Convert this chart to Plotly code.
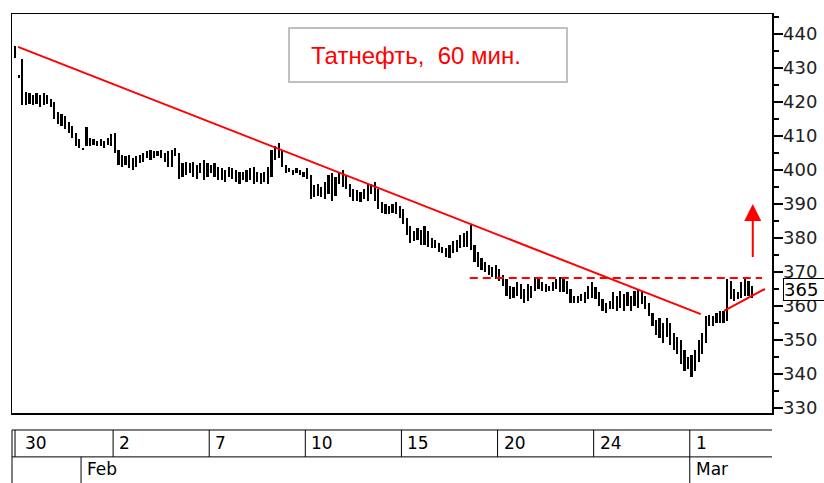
import plotly.graph_objects as go

# ---------------- data ----------------
bar_index = list(range(-1, 207))
bar_high = [
    436.5,
    428, 432.5, 423, 422.5, 422, 422.5, 422, 422.5, 422,
    421, 420, 417, 416.5, 416, 414, 413, 411, 409,
    406.5, 412.5, 409.5, 409, 408.5, 409, 408.5, 409.5, 410.5,
    411, 406, 404.5, 404, 404.5, 403.5, 404, 404.5, 405,
    405.5, 406, 405.5, 405.5, 406, 405, 405.5, 406, 406.5,
    405, 402, 402.5, 402, 402.5, 401.5, 402, 403, 402,
    401.5, 402, 401, 400.5, 400, 401, 400.5, 400, 399.5,
    399.5, 400, 400.5, 401, 399.5, 399, 399.5, 401, 406,
    407, 408, 406, 401.5, 400.5, 400, 400.5, 400, 399.5,
    400.5, 398.5, 395.5, 396, 395, 396.5, 398.5, 399, 398,
    399, 400, 398.5, 396, 394.5, 394, 393.5, 394.5, 396,
    396, 396.5, 394.5, 390.5, 390, 389.5, 390, 390.5, 389.5,
    388.5, 386, 383.5, 382, 383, 382.5, 383.5, 382, 380,
    379.5, 378.5, 377.5, 377, 378, 379, 379.5, 381, 381.5,
    382, 384, 378, 376, 374, 373, 372, 371.5, 372,
    371, 369, 368, 366, 365.5, 367, 366.5, 365, 366.5,
    366, 368.5, 368.5, 367, 366.5, 366, 367, 368, 368.5,
    368, 367.5, 365, 363, 363, 363.5, 364, 366, 367,
    365.5, 364, 362, 361, 361.5, 364, 363, 364.5, 363.5,
    364, 363, 364.5, 365, 364, 363, 361, 358, 356,
    356.5, 355, 356.5, 355, 352, 351, 350, 347, 345,
    345.5, 347, 350, 352, 357, 357.5, 357, 358, 358.5,
    358.5, 368, 367.5, 365, 364, 367, 368, 367.5, 366,
]
bar_low = [
    433,
    427, 419, 419, 419.5, 419, 419.5, 418.5, 419, 419.5,
    418.5, 415, 413.5, 413, 412, 411, 409.5, 407, 406.5,
    406, 407, 407, 407.5, 407, 407, 406.5, 407.5, 407,
    405, 401.5, 401, 401.5, 400.5, 400, 401, 402, 402.5,
    403.5, 403, 403.5, 404, 403.5, 402.5, 401, 401, 404,
    397.5, 398, 398.5, 399, 398, 397.5, 399, 397, 398,
    399, 398, 397, 397, 396.5, 398, 397.5, 396.5, 396,
    397, 396.5, 397, 396, 396.5, 396, 396.5, 396, 398,
    403, 403.5, 401, 399, 399.5, 398.5, 399, 398.5, 398,
    397.5, 391.5, 392, 392.5, 392, 391.5, 393, 391, 392.5,
    396, 395, 394.5, 392, 391, 391, 390.5, 391.5, 391,
    393, 391, 388.5, 387.5, 387, 387, 387.5, 387, 386,
    384, 381, 378.5, 379, 379.5, 378, 378, 377.5, 377,
    377, 376, 375.5, 374.5, 374, 375.5, 376, 377, 377.5,
    377.5, 376.5, 373, 371.5, 370.5, 370, 369, 368.5, 368,
    367.5, 366, 363, 362, 362.5, 363, 362, 361, 361.5,
    362.5, 364.5, 365, 364.5, 364, 364.5, 364.5, 365, 364,
    364, 363.5, 361, 361, 361, 361.5, 361, 362, 362.5,
    362, 360, 358.5, 358, 359, 359, 358.5, 359.5, 358.5,
    360, 358.5, 360, 359.5, 360.5, 359, 357, 354, 351.5,
    350.5, 349, 351, 348.5, 347, 346, 343, 341, 341.5,
    339, 341, 343.5, 346, 349, 354, 354, 355, 355,
    355, 355.5, 362, 361.5, 362, 362.5, 363, 363, 362.5,
]
last_price = 365

# x-axis calendar (bar index where each labelled day / month begins)
day_labels = ["30", "2", "7", "10", "15", "20", "24", "1"]
day_start = [0, 27, 54, 81, 108, 135, 162, 189]
month_labels = ["Feb", "Mar"]
month_start = [18, 189]

# drawn lines
trend_x = [-0.2, 191.6]
trend_y = [436.2, 357.6]
resist_x = [126.7, 208.8]
resist_y = [368.2, 368.2]
support_x = [198.1, 209.6]
support_y = [358.6, 365.0]
arrow_x = 206.2
arrow_from, arrow_to = 374, 390

title_text = "Татнефть,\u00a0 60 мин."

# ---------------- figure ----------------
RED = "#ff0000"
fig = go.Figure()

fig.add_trace(go.Bar(
    x=bar_index,
    base=bar_low,
    y=[h - l if h - l > 0.4 else 0.4 for h, l in zip(bar_high, bar_low)],
    width=0.62,
    marker=dict(color="black", line=dict(width=0)),
    showlegend=False, hoverinfo="skip",
))

fig.add_trace(go.Scatter(x=trend_x, y=trend_y, mode="lines",
                         line=dict(color=RED, width=2), showlegend=False))
fig.add_trace(go.Scatter(x=resist_x, y=resist_y, mode="lines",
                         line=dict(color=RED, width=2, dash="8px,5px"), showlegend=False))
fig.add_trace(go.Scatter(x=support_x, y=support_y, mode="lines",
                         line=dict(color=RED, width=2), showlegend=False))

fig.add_annotation(x=arrow_x, y=arrow_to, ax=arrow_x, ay=arrow_from,
                   xref="x", yref="y", axref="x", ayref="y",
                   showarrow=True, arrowhead=2, arrowsize=1.7, arrowwidth=2,
                   arrowcolor=RED, text="")

# title box
fig.add_shape(type="rect", xref="paper", yref="paper",
              x0=0.3645, x1=0.7303, y0=0.8296, y1=0.9649,
              line=dict(color="#c0c0c0", width=2), fillcolor="white", layer="above")
fig.add_annotation(x=0.5316, y=0.897, xref="paper", yref="paper",
                   xanchor="center", yanchor="middle", showarrow=False,
                   text=title_text, font=dict(family="Liberation Sans, Arial", size=24, color=RED))

# last price box
fig.add_annotation(x=1.0, y=last_price, xref="paper", yref="y",
                   xanchor="left", yanchor="middle",
                   xshift=11, showarrow=False, text=str(last_price) + "\u00a0",
                   font=dict(family="DejaVu Sans", size=18, color="black"),
                   bordercolor="black", borderwidth=1, borderpad=0, bgcolor="white")

# date panel
PT, PM, PB = -0.0426, -0.110, -0.18
line_k = dict(color="black", width=1)
for yv in (PT, PM):
    fig.add_shape(type="line", xref="paper", yref="paper", x0=0, x1=1, y0=yv, y1=yv, line=line_k)
fig.add_shape(type="line", xref="paper", yref="paper", x0=0, x1=0, y0=PT, y1=PB, line=line_k)
fig.add_shape(type="line", xref="paper", yref="paper", x0=0.004, x1=0.004, y0=PT, y1=PM, line=line_k)
for lab, s in zip(day_labels, day_start):
    if s > 0:
        fig.add_shape(type="line", xref="x", yref="paper", x0=s - 0.5, x1=s - 0.5,
                      y0=PT, y1=PM, line=line_k)
    fig.add_annotation(x=s - 0.5, y=(PT + PM) / 2, xref="x", yref="paper",
                       xanchor="left", yanchor="middle",
                       xshift=4 if s > 0 else 6, showarrow=False, text=lab,
                       font=dict(family="DejaVu Sans", size=17, color="black"))
for lab, s in zip(month_labels, month_start):
    fig.add_shape(type="line", xref="x", yref="paper", x0=s - 0.5, x1=s - 0.5,
                  y0=PM, y1=PB, line=line_k)
    fig.add_annotation(x=s - 0.5, y=(PM + PB) / 2 + 0.005, xref="x", yref="paper",
                       xanchor="left", yanchor="middle",
                       xshift=4, showarrow=False, text=lab,
                       font=dict(family="DejaVu Sans", size=17, color="black"))

fig.update_layout(
    width=824, height=483,
    margin=dict(l=12, r=52, t=14, b=70, pad=0, autoexpand=False),
    paper_bgcolor="white", plot_bgcolor="white",
    bargap=0, showlegend=False,
    xaxis=dict(range=[-1.9, 211.6], showticklabels=False, ticks="", showgrid=False,
               zeroline=False, showline=True, linecolor="black", linewidth=1.5, mirror=True,
               fixedrange=True, automargin=False),
    yaxis=dict(range=[328.53, 445.88], side="right", dtick=10, tick0=330,
               ticks="outside", ticklen=9, tickwidth=1.5, tickcolor="black",
               ticklabelstandoff=-3, automargin=False,
               minor=dict(dtick=5, ticks="outside", ticklen=5, tickwidth=1.5, tickcolor="black"),
               showgrid=False, zeroline=False, showline=True, linecolor="black",
               linewidth=1.5, mirror=True,
               tickfont=dict(family="DejaVu Sans", size=18, color="#222222")),
)

fig.write_html(
    "out.html",
    config={"displayModeBar": False, "staticPlot": True},
    post_script=("document.documentElement.style.margin='0px';"
                 "document.body.style.margin='0px';"
                 "document.body.style.overflow='hidden';"
                 "document.documentElement.style.overflow='hidden';"),
)
